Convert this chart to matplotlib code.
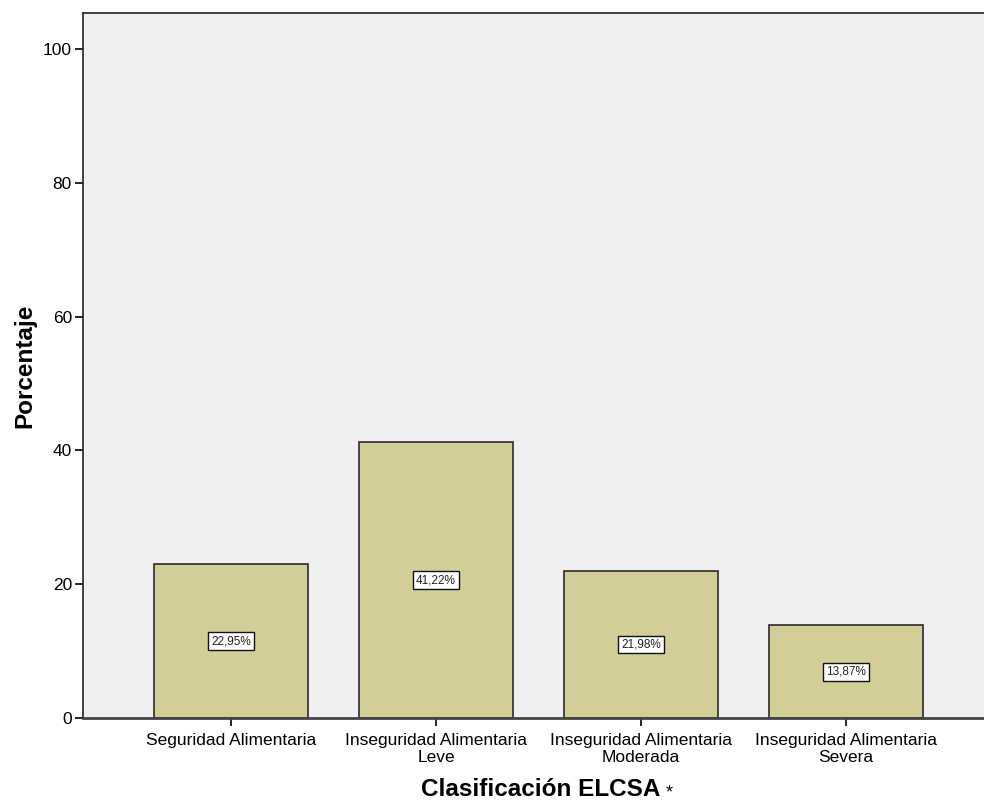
import matplotlib
matplotlib.use("Agg")
import matplotlib.pyplot as plt

categories = ["Seguridad Alimentaria", "Inseguridad Alimentaria\nLeve",
              "Inseguridad Alimentaria\nModerada", "Inseguridad Alimentaria\nSevera"]
values = [22.95, 41.22, 21.98, 13.87]
value_labels = ["22,95%", "41,22%", "21,98%", "13,87%"]
yticks = [0, 20, 40, 60, 80, 100]

plt.rcParams['font.family'] = ['Liberation Sans', 'DejaVu Sans']

W, H = 984, 802
fig = plt.figure(figsize=(W / 100, H / 100), dpi=100)
ax = fig.add_axes([83 / W, (H - 718) / H, 1 - 83 / W, (718 - 13) / H])
ax.set_facecolor("#F0F0F0")

x = list(range(len(categories)))
ax.bar(x, values, width=0.75, color="#D3CE98", edgecolor="#2b2b2b", linewidth=1.2, zorder=2)
for xi, v, lab in zip(x, values, value_labels):
    ax.text(xi, v / 2, lab, ha="center", va="center", fontsize=8.5, color="#222222", zorder=3,
            bbox=dict(boxstyle="square,pad=0.25", fc="white", ec="#111111", lw=1.0))

ax.set_xlim(-0.722, 3.673)
ax.set_ylim(0, 105.4)
ax.set_yticks(yticks)
ax.set_xticks(x)
ax.set_xticklabels(categories, fontsize=12.5, linespacing=1.12)
ax.tick_params(axis="y", labelsize=12.5, length=6, width=1.2, direction="out", pad=2)
ax.tick_params(axis="x", length=6, width=1.2, direction="out", pad=5)
for s in ["left", "top"]:
    ax.spines[s].set_linewidth(1.2)
    ax.spines[s].set_color("#222222")
ax.spines["bottom"].set_linewidth(2)
ax.spines["bottom"].set_color("#444444")
ax.spines["right"].set_visible(False)

ax.set_ylabel("Porcentaje", fontsize=17.5, fontweight="bold", labelpad=5)
fig.text(421 / W, 1 - 796 / H, "Clasificación ELCSA", fontsize=17.5, fontweight="bold",
         ha="left", va="baseline")
fig.text(666 / W, 1 - 791 / H, "*", fontsize=13, ha="left", va="center_baseline")

fig.savefig("out.png", dpi=100)
